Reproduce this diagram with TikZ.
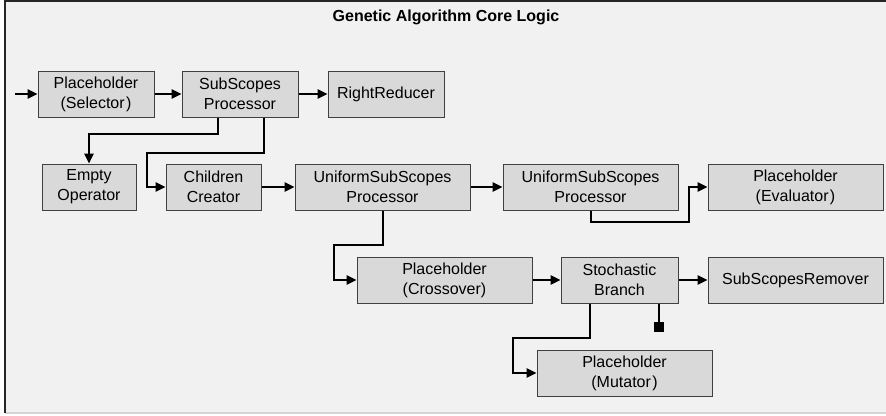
\documentclass[tikz,border=0pt]{standalone}
\usepackage{fontspec}
\setmainfont{Liberation Sans}
\usetikzlibrary{arrows.meta}
\definecolor{panelbg}{HTML}{F1F1F1}
\definecolor{boxfill}{HTML}{D9D9D9}
\definecolor{boxline}{HTML}{404040}
\definecolor{rimlight}{HTML}{D4D4D4}
\begin{document}
\begin{tikzpicture}[x=0.75pt,y=-0.75pt,
  op/.style={draw=boxline,line width=0.75pt,fill=boxfill,rectangle,
    minimum height=34.5pt,inner sep=0pt,align=center,
    font=\fontsize{12}{15.2}\selectfont},
  flow/.style={line width=1.5pt,
    -{Triangle[length=7.5pt,width=7pt]}},
  plain/.style={line width=1.5pt},
  endmark/.style={fill=black,draw=none,minimum size=7.5pt,inner sep=0pt,rectangle}]
% canvas and panel
\useasboundingbox (0,0) rectangle (886,415);
\fill[white] (0,0) rectangle (886,415);
\fill[panelbg] (5,1) rectangle (886,413);
\draw[rimlight,line width=1.2pt] (5,413) -- (886,413);
\draw[black!85,line width=1.5pt] (5,413) -- (5,1) -- (886,1);
% title
\node[font=\bfseries\fontsize{12}{14}\selectfont] (title) at (446,17) {Genetic Algorithm Core Logic};
% operators
\node[op,minimum width=87pt]    (sel)  at (96,94)    {Placeholder\\(Selector\kern1pt)};
\node[op,minimum width=87pt]    (ssp)  at (240,94)   {SubScopes\\Processor};
\node[op,minimum width=87pt]    (rr)   at (386,94)   {RightReducer};
\node[op,minimum width=70.5pt]  (emp)  at (89,187)   {Empty\\Operator};
\node[op,minimum width=71.25pt] (chc)  at (213.5,187) {Children\\Creator};
\node[op,minimum width=131.25pt] (usp1) at (382.5,187) {UniformSubScopes\\Processor};
\node[op,minimum width=131.25pt] (usp2) at (590.5,187) {UniformSubScopes\\Processor};
\node[op,minimum width=131.25pt] (eva)  at (795.5,187) {Placeholder\\(Evaluator\kern1pt)};
\node[op,minimum width=131.25pt] (cro)  at (444.5,280) {Placeholder\\(Crossover)};
\node[op,minimum width=87.75pt] (stb)  at (619.5,280) {Stochastic\\Branch};
\node[op,minimum width=131.25pt] (ssr)  at (795.5,280) {SubScopesRemover};
\node[op,minimum width=131.25pt] (mut)  at (624.5,373) {Placeholder\\(Mutator\kern1pt)};
\node[endmark] (stop) at (659,327) {};
\coordinate (entry) at (15,94);
% connectors
\draw[flow] (entry) -- (sel.west);
\draw[flow] (sel.east) -- (ssp.west);
\draw[flow] (ssp.east) -- (rr.west);
\draw[flow] (ssp.south -| 218,0) -- (218,134) -| (emp.north);
\draw[flow] (ssp.south -| 264,0) -- (264,153) -- (147,153) |- (chc.west);
\draw[flow] (chc.east) -- (usp1.west);
\draw[flow] (usp1.east) -- (usp2.west);
\draw[flow] (usp2.south) -- (590.5,222) -- (689,222) |- (eva.west);
\draw[flow] (usp1.south) -- (382.5,245) -- (334,245) |- (cro.west);
\draw[flow] (cro.east) -- (stb.west);
\draw[flow] (stb.east) -- (ssr.west);
\draw[flow] (stb.south -| 590,0) -- (590,338) -- (513,338) |- (mut.west);
\draw[plain] (stb.south -| stop) -- (stop.north);
\end{tikzpicture}
\end{document}
